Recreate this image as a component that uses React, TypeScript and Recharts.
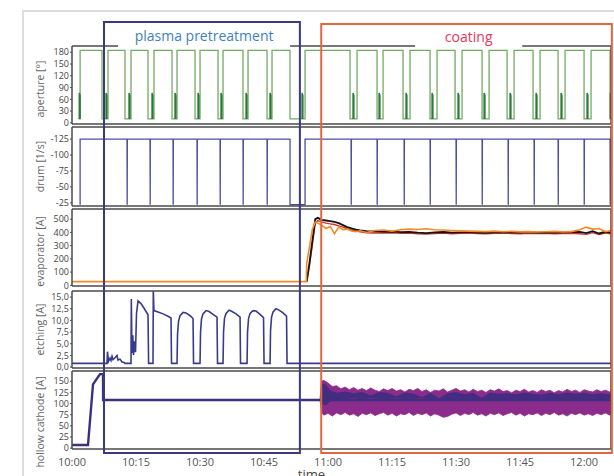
import React from 'react';
import { ComposedChart, Line, Area, XAxis, YAxis, ReferenceArea } from 'recharts';

const W = 614;
const H = 476;
const FRAME = '#4a4a4a';

// time axis: minutes after 10:00
const T_MAX = 126.3;
const minorTicks = [0, 5, 10, 15, 20, 25, 30, 35, 40, 45, 50, 55, 60, 65, 70, 75, 80, 85, 90, 95, 100, 105, 110, 115, 120, 125];
const timeTicks = [0, 15, 30, 45, 60, 75, 90, 105, 120];

// process phases drawn as boxes over all panels
const phaseNames = ['plasma pretreatment', 'coating'];
const phaseStart = [7.5, 58.4];
const phaseEnd = [53.4, 126.5];
const phaseLabelFrom = [10.8, 80.4];
const phaseLabelTo = [51.1, 105.5];
const phaseBoxColor = ['#3d3a7c', '#e2673f'];
const phaseTextColor = ['#3f7fc1', '#e8365a'];
const phaseTop = [22, 24];
const phaseBottom = 453;

// aperture [deg]: shutter closes (down), small spike, opens again (up)
const APERTURE_OPEN = 185;
const APERTURE_CLOSED = 10;
const APERTURE_SPIKE = 76;
const apertureDown = [1.5, 7.03, 12.42, 17.81, 23.44, 28.83, 34.22, 40.07, 45.7, 51.09, 65.15, 71.48, 77.57, 83.9, 89.76, 96.09, 101.95, 108.04, 113.9, 119.99, 126.08];
const apertureSpike = [1.7, 7.97, 13.36, 18.75, 24.14, 29.53, 34.92, 40.78, 46.4, 53.9, 65.85, 71.95, 78.27, 84.37, 90.46, 96.56, 102.65, 108.74, 114.6, 120.69, 126.15];
const apertureUp: (number | null)[] = [1.9, 8.44, 13.83, 19.22, 24.61, 30.0, 35.39, 41.25, 46.87, 54.61, 66.79, 72.89, 79.21, 85.54, 91.4, 97.73, 103.59, 109.68, 115.54, 121.63, null];

// drum [1/s]
const DRUM_RUN = -125;
const DRUM_STOP = -22;
const drumRunStart = [1.9, 54.61];
const drumRunEnd = [51.09, T_MAX];
const drumSpikes = [12.89, 18.28, 23.67, 29.29, 34.69, 40.07, 45.7, 65.39, 71.48, 77.81, 83.9, 89.99, 96.09, 102.18, 108.27, 113.9, 119.99, 126.08];

// evaporator [A]
const evapBaseT = [0, 54.9];
const evapBaseOrange = [28, 28];
const evapT = [55.0, 55.6, 56.3, 57.0, 57.6, 58.5, 59.5, 60.5, 61.5, 62.5, 63.5, 64.5, 65.5, 66.5, 67.5, 69, 71, 73, 75, 77, 79, 81, 83, 85, 87, 89, 91, 93, 95, 97, 99, 101, 103, 105, 107, 109, 111, 113, 115, 117, 119, 120.5, 122, 123.5, 125, 126.3];
const evapBlack = [30, 160, 330, 500, 510, 495, 490, 485, 480, 470, 455, 440, 430, 422, 415, 410, 408, 405, 406, 402, 404, 398, 395, 400, 403, 398, 401, 404, 399, 397, 401, 403, 400, 398, 402, 399, 401, 398, 400, 402, 404, 395, 410, 392, 405, 398];
const evapOrange = [170, 280, 420, 480, 470, 455, 430, 445, 390, 440, 420, 425, 410, 405, 412, 400, 415, 418, 410, 420, 425, 422, 428, 420, 418, 415, 412, 410, 408, 406, 410, 405, 408, 404, 406, 403, 405, 408, 404, 406, 420, 440, 425, 430, 405, 415];
const evapRed = [25, 140, 300, 470, 490, 480, 470, 465, 460, 450, 440, 428, 418, 410, 405, 398, 396, 395, 398, 393, 395, 390, 388, 392, 395, 390, 393, 396, 391, 390, 393, 395, 392, 390, 394, 391, 393, 390, 392, 394, 390, 385, 398, 384, 395, 390];

// etching [A]
const etchT = [
  0, 7.73, 8.2, 8.32, 8.55, 8.91, 9.14, 9.38, 9.61, 10.08, 10.55, 10.78, 11.25, 11.72, 12.19, 12.42,
  13.83, 13.9, 14.05, 14.25, 14.41, 14.65, 14.88, 15.12, 15.47, 16.17, 16.88, 17.81, 17.95,
  18.98, 19.05, 19.2, 20.16, 21.33, 22.5, 23.2, 23.32,
  24.61, 24.73, 24.96, 25.31, 26.02, 26.72, 27.66, 28.36, 28.48,
  30.0, 30.12, 30.35, 30.7, 31.41, 32.11, 33.05, 33.98, 34.1,
  35.39, 35.51, 35.74, 36.09, 36.8, 37.5, 38.44, 39.38, 39.49,
  41.02, 41.13, 41.37, 41.72, 42.42, 43.13, 44.06, 44.88, 45.0,
  46.41, 46.52, 46.76, 47.11, 47.81, 48.52, 49.45, 50.27, 50.39,
  126.3,
];
const etchV = [
  0.8, 0.8, 0.8, 3.3, 1.2, 1.9, 1.4, 2.3, 1.6, 2.0, 2.5, 1.5, 1.7, 1.1, 1.0, 0.8,
  0.8, 14.6, 3.0, 6.8, 2.6, 5.5, 3.2, 11.5, 14.2, 13.6, 12.6, 11.2, 0.8,
  0.8, 16.5, 12.1, 11.8, 11.4, 10.9, 10.5, 0.8,
  0.8, 7.0, 9.8, 11.0, 11.7, 11.6, 11.0, 10.4, 0.8,
  0.8, 7.5, 10.3, 11.4, 12.1, 11.9, 11.3, 10.7, 0.8,
  0.8, 7.5, 10.5, 11.5, 12.2, 11.9, 11.4, 10.7, 0.8,
  0.8, 7.5, 10.4, 11.5, 12.1, 12.0, 11.3, 10.6, 0.8,
  0.8, 7.8, 10.7, 11.8, 12.5, 12.2, 11.6, 10.9, 0.8,
  0.8,
];

// hollow cathode [A]
const hcT = [0, 3.75, 4.92, 6.56, 7.27, 7.29, T_MAX];
const hcV = [7, 7, 143, 166, 166, 108, 108];
const bandT = [
  58.1, 58.5, 59, 60, 61, 62, 63, 64, 65, 66, 67, 68, 69, 70, 71, 72, 73, 74, 75, 76, 77, 78, 79, 80,
  81, 82, 83, 84, 85, 86, 87, 88, 89, 90, 91, 92, 93, 94, 95, 96, 97, 98, 99, 100, 101, 102, 103, 104,
  105, 106, 107, 108, 109, 110, 111, 112, 113, 114, 115, 116, 117, 118, 119, 120, 121, 122, 123, 124,
  125, 126, 126.3,
];
const bandHigh = [
  108, 150, 152, 146, 138, 140, 133, 137, 131, 136, 130, 134, 129, 135, 130, 127, 133, 129, 134, 128, 131, 126, 132, 129,
  134, 127, 131, 125, 130, 128, 133, 126, 130, 134, 128, 131, 126, 132, 127, 130, 125, 131, 128, 133, 127, 129, 124, 130,
  127, 132, 126, 129, 125, 131, 127, 130, 124, 129, 126, 132, 127, 130, 125, 131, 128, 126, 131, 127,
  130, 126, 128,
];
const bandLow = [
  108, 80, 74, 78, 72, 79, 75, 80, 74, 77, 71, 78, 75, 79, 73, 77, 80, 74, 78, 72, 77, 75, 80, 73,
  78, 75, 79, 72, 77, 74, 69, 71, 76, 79, 73, 78, 75, 80, 74, 77, 72, 78, 75, 79, 73, 77, 80, 74,
  78, 72, 77, 75, 79, 73, 78, 75, 80, 74, 77, 72, 78, 75, 79, 74, 77, 73, 78, 75,
  79, 74, 77,
];
const navyT = [58.1, 58.6, 59.5, 60.5, 62, 64, 66, 68, 70, 72, 74, 76, 78, 80, 82, 84, 86, 88, 90, 92, 94, 96, 98, 100, 102, 104, 106, 108, 110, 112, 114, 116, 118, 120, 122, 124, 126.3];
const navyHigh = [108, 145, 142, 130, 124, 127, 123, 126, 118, 126, 124, 116, 125, 122, 114, 124, 112, 123, 126, 121, 124, 113, 125, 122, 123, 121, 125, 122, 120, 124, 121, 125, 122, 124, 121, 123, 120];
const navyLow = [108, 98, 96, 104, 108, 110, 112, 110, 112, 111, 110, 112, 110, 111, 112, 110, 111, 110, 109, 111, 110, 111, 110, 109, 110, 111, 109, 110, 111, 110, 109, 111, 110, 110, 111, 110, 111];

type Pt = { t: number; v: number | null };

const apertureData: Pt[] = [];
apertureDown.forEach((d, i) => {
  if (i > 0) apertureData.push({ t: d, v: APERTURE_OPEN });
  apertureData.push({ t: d, v: APERTURE_CLOSED });
  const u = apertureUp[i];
  if (u === null) {
    apertureData.push({ t: T_MAX, v: APERTURE_CLOSED });
  } else {
    apertureData.push({ t: u, v: APERTURE_CLOSED });
    apertureData.push({ t: u, v: APERTURE_OPEN });
  }
});

// the darker spike inside each closed phase: a thin bar
const apertureSpikeData: Pt[] = [];
apertureSpike.forEach((s) => {
  apertureSpikeData.push(
    { t: s, v: APERTURE_CLOSED },
    { t: s, v: APERTURE_SPIKE },
    { t: s + 0.2, v: APERTURE_SPIKE - 6 },
    { t: s + 0.2, v: APERTURE_CLOSED },
    { t: s + 0.21, v: null },
  );
});

const drumData: Pt[] = [];
drumRunStart.forEach((a, i) => {
  const b = drumRunEnd[i];
  drumData.push({ t: a, v: DRUM_STOP }, { t: a, v: DRUM_RUN });
  drumSpikes
    .filter((s) => s > a && s < b)
    .forEach((s) => {
      drumData.push({ t: s, v: DRUM_RUN }, { t: s + 0.04, v: DRUM_STOP }, { t: s + 0.08, v: DRUM_RUN });
    });
  drumData.push({ t: b, v: DRUM_RUN });
  if (b < T_MAX) drumData.push({ t: b, v: DRUM_STOP });
});

const orangeData: Pt[] = [
  ...evapBaseT.map((t, i) => ({ t, v: evapBaseOrange[i] })),
  ...evapT.map((t, i) => ({ t, v: evapOrange[i] })),
];
const blackData: Pt[] = evapT.map((t, i) => ({ t, v: evapBlack[i] }));
const redData: Pt[] = evapT.map((t, i) => ({ t, v: evapRed[i] }));
const etchData: Pt[] = etchT.map((t, i) => ({ t, v: etchV[i] }));
const hcData: Pt[] = hcT.map((t, i) => ({ t, v: hcV[i] }));
const bandData = bandT.map((t, i) => ({ t, range: [bandLow[i], bandHigh[i]] }));
const navyData = navyT.map((t, i) => ({ t, range: [navyLow[i], navyHigh[i]] }));

const fmtTime = (m: number) => {
  const h = 10 + Math.floor(m / 60);
  const mm = m % 60;
  return `${h}:${String(mm).padStart(2, '0')}`;
};
const fmtComma = (v: number) => v.toFixed(1).replace('.', ',');

interface PanelProps {
  top: number;
  height: number;
  label: string;
  labelShift?: number;
  domain: [number, number];
  ticks: number[];
  reversed?: boolean;
  format?: (v: number) => string;
  showTime?: boolean;
  children: React.ReactNode;
}

function Panel({ top, height, label, labelShift = 0, domain, ticks, reversed = false, format, showTime = false, children }: PanelProps) {
  const pad = 6;
  const below = showTime ? 31 : pad;
  // invisible series so that the helper axes get a scale
  const span = [{ t: 0, v: domain[0] }, { t: T_MAX, v: domain[0] }];
  const edgeAxis = {
    type: 'number' as const,
    dataKey: 't',
    domain: [0, T_MAX],
    allowDataOverflow: true,
    ticks: minorTicks,
    interval: 0,
    height: 1,
    mirror: true,
    tick: false,
    tickSize: 3,
    tickLine: { stroke: FRAME },
    axisLine: { stroke: FRAME, strokeWidth: 1.5 },
  };
  const renderYLabel = (p: any) => {
    const vb = p.viewBox || {};
    const cx = (vb.x ?? 0) + (vb.width ?? 0) / 2;
    const cy = (vb.y ?? 0) + (vb.height ?? 0) / 2 + labelShift;
    return (
      <text x={cx} y={cy} transform={`rotate(-90 ${cx} ${cy})`} textAnchor="middle" dominantBaseline="central" fontSize={10.5} fill="#666">
        {label}
      </text>
    );
  };
  return (
    <div style={{ position: 'absolute', left: 0, top: top - pad }}>
      <ComposedChart
        width={W}
        height={height + pad + below}
        margin={{ top: pad - 1, right: 0, bottom: showTime ? 0 : pad - 1, left: 8 }}
      >
        <XAxis xAxisId="b" {...edgeAxis} />
        <XAxis xAxisId="t" orientation="top" {...edgeAxis} />
        {showTime && (
          <XAxis
            xAxisId="lbl"
            type="number"
            dataKey="t"
            domain={[0, T_MAX]}
            allowDataOverflow
            ticks={timeTicks}
            interval={0}
            height={30}
            tickFormatter={fmtTime}
            tick={{ fontSize: 11, fill: '#555' }}
            tickSize={0}
            tickMargin={9}
            tickLine={false}
            axisLine={false}
            label={{ value: 'time', position: 'insideBottom', offset: 0, dx: -30, fontSize: 13, fill: '#444' }}
          />
        )}
        <YAxis
          yAxisId="l"
          type="number"
          width={64}
          domain={domain}
          allowDataOverflow
          reversed={reversed}
          ticks={ticks}
          interval={0}
          tickSize={2}
          tickMargin={1}
          tickFormatter={format}
          tick={{ fontSize: 9, fill: '#444' }}
          tickLine={{ stroke: FRAME }}
          axisLine={{ stroke: FRAME, strokeWidth: 1.5 }}
          label={renderYLabel}
        />
        <YAxis
          yAxisId="r"
          orientation="right"
          type="number"
          width={3}
          domain={domain}
          allowDataOverflow
          reversed={reversed}
          ticks={ticks}
          interval={0}
          tick={false}
          tickSize={2}
          tickLine={{ stroke: FRAME }}
          axisLine={{ stroke: FRAME, strokeWidth: 1.5 }}
        />
        <Line xAxisId="t" yAxisId="r" data={span} dataKey="v" stroke="none" dot={false} isAnimationActive={false} />
        {showTime && <Line xAxisId="lbl" yAxisId="r" data={span} dataKey="v" stroke="none" dot={false} isAnimationActive={false} />}
        {children}
      </ComposedChart>
    </div>
  );
}

export default function App() {
  const overlaySpan = [{ t: 0, y: 0 }, { t: T_MAX, y: 0 }];
  return (
    <div
      style={{
        position: 'absolute',
        left: 0,
        top: 0,
        width: W,
        height: H,
        overflow: 'hidden',
        background: '#fff',
        fontFamily: "'Open Sans', 'Noto Sans', sans-serif",
      }}
    >
      {/* light page frame */}
      <div
        style={{
          position: 'absolute',
          left: 22,
          top: 10,
          width: W,
          height: H,
          borderTop: '2px solid #dcdcdc',
          borderLeft: '2px solid #dcdcdc',
        }}
      />

      <Panel top={47} height={76} label="aperture [°]" labelShift={4} domain={[-3, 196]} ticks={[0, 30, 60, 90, 120, 150, 180]}>
        <Line xAxisId="b" yAxisId="l" data={apertureData} dataKey="v" type="linear" stroke="#74a964" strokeWidth={1.3} dot={false} isAnimationActive={false} />
        <Line xAxisId="b" yAxisId="l" data={apertureSpikeData} dataKey="v" type="linear" stroke="#2c7a3a" strokeWidth={1.4} dot={false} isAnimationActive={false} />
      </Panel>

      <Panel top={128} height={77} label="drum [1/s]" domain={[-144, -20]} ticks={[-125, -100, -75, -50, -25]} reversed>
        <Line xAxisId="b" yAxisId="l" data={drumData} dataKey="v" type="linear" stroke="#4b4f9e" strokeWidth={1.3} dot={false} isAnimationActive={false} />
      </Panel>

      <Panel top={210} height={75} label="evaporator [A]" labelShift={4} domain={[-5, 577]} ticks={[0, 100, 200, 300, 400, 500]}>
        <Line xAxisId="b" yAxisId="l" data={redData} dataKey="v" type="linear" stroke="#d8302a" strokeWidth={1.4} dot={false} isAnimationActive={false} />
        <Line xAxisId="b" yAxisId="l" data={blackData} dataKey="v" type="linear" stroke="#151515" strokeWidth={1.8} dot={false} isAnimationActive={false} />
        <Line xAxisId="b" yAxisId="l" data={orangeData} dataKey="v" type="linear" stroke="#f28a26" strokeWidth={1.6} dot={false} isAnimationActive={false} />
      </Panel>

      <Panel top={292} height={75} label="etching [A]" domain={[-0.2, 16.3]} ticks={[0, 2.5, 5, 7.5, 10, 12.5, 15]} format={fmtComma}>
        <Line xAxisId="b" yAxisId="l" data={etchData} dataKey="v" type="linear" stroke="#3a3a8c" strokeWidth={1.6} dot={false} isAnimationActive={false} />
      </Panel>

      <Panel top={372} height={76} label="hollow cathode [A]" labelShift={12} domain={[-2, 173]} ticks={[0, 25, 50, 75, 100, 125, 150]} showTime>
        <Area xAxisId="b" yAxisId="l" data={bandData} dataKey="range" type="linear" stroke="#8b2c8c" strokeWidth={0.8} fill="#8b2c8c" fillOpacity={1} isAnimationActive={false} />
        <Area xAxisId="b" yAxisId="l" data={navyData} dataKey="range" type="linear" stroke="none" fill="#2f2c7c" fillOpacity={0.75} isAnimationActive={false} />
        <Line xAxisId="b" yAxisId="l" data={hcData} dataKey="v" type="linear" stroke="#3b2f80" strokeWidth={2.4} dot={false} isAnimationActive={false} />
      </Panel>

      {/* phase boxes over all panels */}
      <div style={{ position: 'absolute', left: 0, top: 0, pointerEvents: 'none' }}>
        <ComposedChart width={W} height={H} margin={{ top: 0, right: 3, bottom: 0, left: 72 }}>
          <XAxis type="number" dataKey="t" domain={[0, T_MAX]} allowDataOverflow hide />
          <YAxis type="number" domain={[0, H]} reversed allowDataOverflow hide />
          <Line data={overlaySpan} dataKey="y" stroke="none" dot={false} isAnimationActive={false} />
          {phaseNames.map((name, i) => (
            <ReferenceArea
              key={`box-${name}`}
              x1={phaseStart[i]}
              x2={phaseEnd[i]}
              y1={phaseTop[i]}
              y2={phaseBottom}
              fill="none"
              stroke={phaseBoxColor[i]}
              strokeWidth={2}
              ifOverflow="visible"
            />
          ))}
          {phaseNames.map((name, i) => (
            <ReferenceArea
              key={`lbl-${name}`}
              x1={phaseLabelFrom[i]}
              x2={phaseLabelTo[i]}
              y1={phaseTop[i] + 2}
              y2={48.5}
              fill="#fff"
              fillOpacity={1}
              stroke="none"
              ifOverflow="visible"
              label={{ value: name, position: 'center', fill: phaseTextColor[i], fontSize: 14 }}
            />
          ))}
        </ComposedChart>
      </div>
    </div>
  );
}
